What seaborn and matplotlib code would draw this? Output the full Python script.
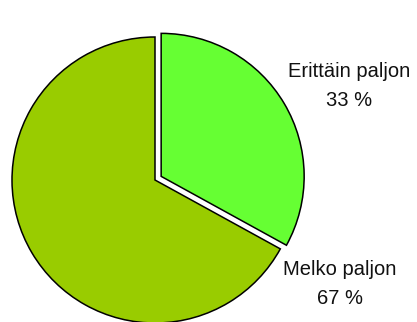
import matplotlib
matplotlib.use("Agg")
import matplotlib.pyplot as plt
import seaborn as sns

categories = ["Erittäin paljon", "Melko paljon"]
values = [33, 67]
colors = ["#66FF33", "#99CC00"]

sns.set_theme(style="white")
plt.rcParams['font.family'] = ['Liberation Sans', 'DejaVu Sans']

W, H = 417, 322
fig = plt.figure(figsize=(W / 100, H / 100), dpi=100)
ax = fig.add_axes([0, 0, 1, 1])
cx, cy, r = 155, 180, 143

ax.pie(values, colors=colors, startangle=90, counterclock=False,
       explode=[0.05, 0], radius=1,
       wedgeprops=dict(edgecolor="black", linewidth=1.1))
ax.set_aspect('auto')
ax.set_xlim(-cx / r, (W - cx) / r)
ax.set_ylim(-(H - cy) / r, cy / r)
ax.axis('off')

label_pos = [(349, 86), (340, 284)]
for cat, v, (px, py) in zip(categories, values, label_pos):
    fig.text(px / W, 1 - py / H, f"{cat}\n{v} %", ha="center", va="center",
             fontsize=14.5, linespacing=1.65, color="#111111")

fig.savefig("out.png", dpi=100, facecolor="white")
